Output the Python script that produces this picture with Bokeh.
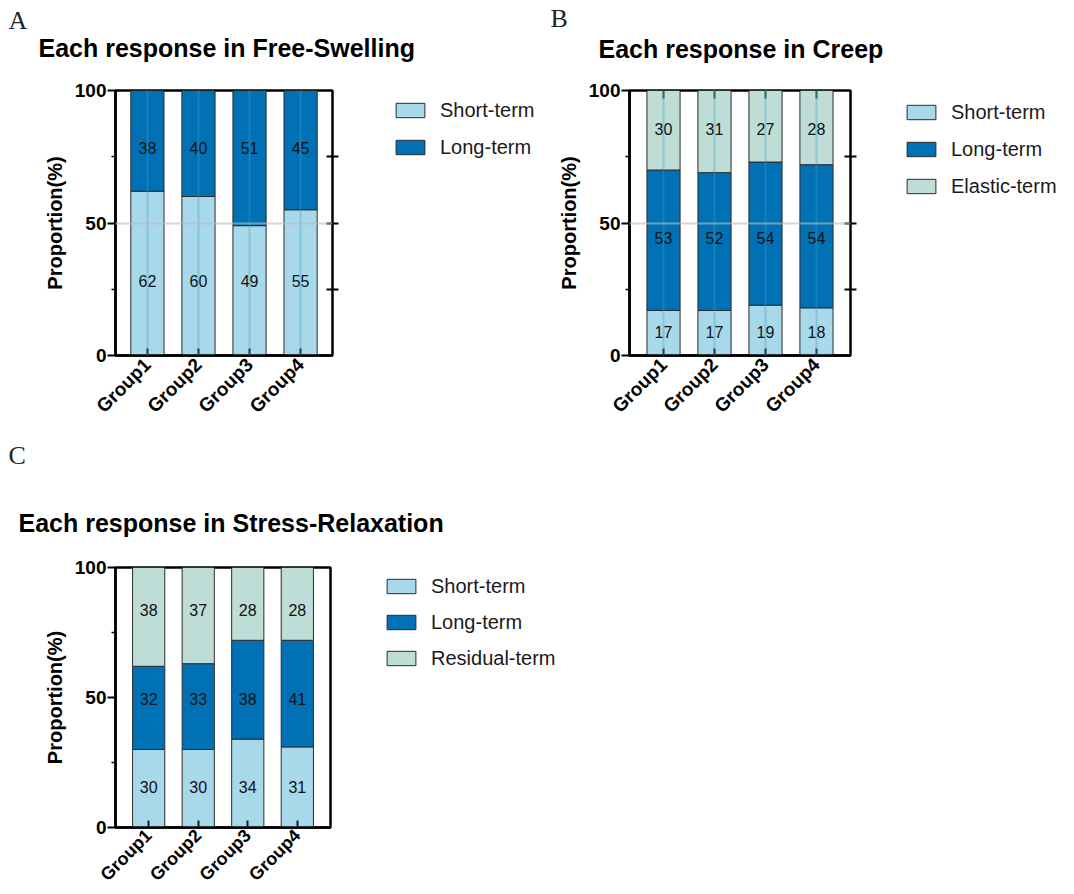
import math
from bokeh.plotting import figure
from bokeh.models import (ColumnDataSource, FactorRange, Range1d, FixedTicker, LinearAxis,
                          CategoricalAxis, Label, Legend, LegendItem, Spacer)
from bokeh.layouts import column, row
from bokeh.embed import file_html
from bokeh.resources import INLINE
from bokeh.core.properties import value

groups = ["Group1", "Group2", "Group3", "Group4"]

# Free-Swelling
fs_short = [62, 60, 49, 55]
fs_long = [38, 40, 51, 45]
# Creep
cr_short = [17, 17, 19, 18]
cr_long = [53, 52, 54, 54]
cr_elastic = [30, 31, 27, 28]
# Stress-Relaxation
sr_short = [30, 30, 34, 31]
sr_long = [32, 33, 38, 41]
sr_residual = [38, 37, 28, 28]

y_ticks = [0, 50, 100]
y_minor_ticks = [25, 75]

SHORT = "#A8D9EB"
LONG = "#0071B4"
THIRD = "#BDDDD6"
SANS = "Liberation Sans"
SERIF = "Liberation Serif"


def make_source(series):
    keys = ["s%d" % i for i in range(len(series))]
    data = {"g": groups}
    for k, s in zip(keys, series):
        data[k] = s
    return keys, ColumnDataSource(data)


def blank(width, height, x_range=None, y_range=None):
    f = figure(width=width, height=height,
               x_range=x_range if x_range is not None else Range1d(0, width),
               y_range=y_range if y_range is not None else Range1d(0, height),
               output_backend="svg", toolbar_location=None,
               x_axis_location=None, y_axis_location=None,
               min_border_left=0, min_border_right=0, min_border_top=0, min_border_bottom=0)
    f.outline_line_color = None
    f.xgrid.grid_line_color = None
    f.ygrid.grid_line_color = None
    f.background_fill_color = "white"
    f.border_fill_color = "white"
    return f


def header(width, height, title, letter, title_xy, letter_xy):
    h = blank(width, height)
    h.add_layout(Label(x=letter_xy[0], y=letter_xy[1], text=letter, text_font=SERIF,
                       text_font_size="26px", text_baseline="middle", text_align="left",
                       text_color="#222222"))
    h.add_layout(Label(x=title_xy[0], y=title_xy[1], text=title, text_font=SANS,
                       text_font_style="bold", text_font_size="25px", text_baseline="middle",
                       text_align="left", text_color="black"))
    return h


def legend_fig(width, height, series, names, colors, spacing):
    keys, src = make_source(series)
    lf = blank(width, height, x_range=FactorRange(*groups), y_range=Range1d(0, 100))
    rends = lf.vbar_stack(keys, x="g", width=0.65, source=src, color=colors,
                          line_color="#2b2b2b", line_width=1)
    for r in rends:
        r.visible = False
    items = [LegendItem(label=n, renderers=[r]) for n, r in zip(names, rends)]
    leg = Legend(items=items, location="top_left", padding=0, margin=0, spacing=spacing,
                 glyph_width=36, glyph_height=18, label_height=24, label_standoff=12,
                 label_text_font=SANS, label_text_font_size="20px", label_text_color="#1a1a1a",
                 border_line_alpha=0, background_fill_alpha=0, inactive_fill_alpha=0)
    lf.add_layout(leg)
    return lf


def chart(b_left, frame_w, b_right, frame_h, b_bottom, series, colors, pad,
          right_ticks, top_ticks, grids, xlab_size, xlab_standoff):
    b_top = 14
    p = figure(width=b_left + frame_w + b_right, height=b_top + frame_h + b_bottom,
               x_range=FactorRange(*groups, range_padding=pad, range_padding_units="absolute"),
               y_range=Range1d(0, 100), output_backend="svg", toolbar_location=None,
               min_border_left=b_left, min_border_right=b_right,
               min_border_top=b_top, min_border_bottom=b_bottom)
    p.background_fill_color = "white"
    p.border_fill_color = "white"
    p.outline_line_color = "black"
    p.outline_line_width = 2.5

    keys, src = make_source(series)
    p.vbar_stack(keys, x="g", width=0.65, source=src, color=colors,
                 line_color="#2b2b2b", line_width=1)

    # value labels (per series, at the mean segment centre)
    bottoms = [0] * len(groups)
    for s in series:
        centres = [b + v / 2 for b, v in zip(bottoms, s)]
        ymean = sum(centres) / len(centres)
        p.text(x=groups, y=[ymean] * len(groups), text=[str(v) for v in s],
               text_align="center", text_baseline="middle", text_font_size="16px",
               text_font=value(SANS), text_color="#111111")
        bottoms = [b + v for b, v in zip(bottoms, s)]

    ya = p.yaxis[0]
    ya.ticker = FixedTicker(ticks=y_ticks, minor_ticks=y_minor_ticks)
    ya.axis_line_width = 2.5
    ya.axis_line_color = "black"
    ya.major_tick_line_width = 2
    ya.major_tick_out = 8
    ya.major_tick_in = 0
    ya.minor_tick_line_width = 1.5
    ya.minor_tick_out = 4
    ya.minor_tick_in = 0
    ya.major_label_standoff = 1
    ya.major_label_text_font = SANS
    ya.major_label_text_font_style = "bold"
    ya.major_label_text_font_size = "19px"
    ya.major_label_text_color = "black"
    ya.axis_label = "Proportion(%)"
    ya.axis_label_text_font = SANS
    ya.axis_label_text_font_style = "bold"
    ya.axis_label_text_font_size = "20px"
    ya.axis_label_text_color = "black"
    ya.axis_label_standoff = 6

    xa = p.xaxis[0]
    xa.axis_line_width = 2.5
    xa.axis_line_color = "black"
    xa.major_tick_in = 7
    xa.major_tick_out = 0
    xa.major_tick_line_width = 2
    xa.major_tick_line_color = "#1a1a1a"
    xa.major_label_orientation = math.pi / 4
    xa.major_label_standoff = xlab_standoff
    xa.major_label_text_font = SANS
    xa.major_label_text_font_style = "bold"
    xa.major_label_text_font_size = xlab_size
    xa.major_label_text_color = "black"

    if right_ticks:
        ra = LinearAxis(ticker=FixedTicker(ticks=[25, 50, 75]), major_tick_in=6, major_tick_out=6,
                        major_tick_line_width=2, axis_line_color=None,
                        major_label_overrides={25: " ", 50: " ", 75: " "},
                        major_label_text_font_size="1px",
                        major_label_standoff=0, minor_tick_line_color=None)
        p.add_layout(ra, "right")
    if top_ticks:
        ta = CategoricalAxis(major_tick_in=8, major_tick_out=0, major_tick_line_width=2,
                             major_tick_line_color="#1f5a4f", axis_line_color=None,
                             major_label_overrides={g: " " for g in groups},
                             major_label_text_font_size="1px", major_label_standoff=0)
        p.add_layout(ta, "above")

    if grids:
        p.ygrid.ticker = FixedTicker(ticks=[50])
        p.ygrid.grid_line_color = "#bdbdbd"
        p.ygrid.grid_line_alpha = 0.6
        p.ygrid.grid_line_width = 2
        p.ygrid.level = "overlay"
        p.xgrid.grid_line_color = "#3A9FCC"
        p.xgrid.grid_line_alpha = 0.35
        p.xgrid.grid_line_width = 2
        p.xgrid.level = "overlay"
    else:
        p.xgrid.grid_line_color = None
        p.ygrid.grid_line_color = None
    return p


# ---- panel A ----
hA = header(549, 76, "Each response in Free-Swelling", "A", (38, 29), (8, 56))
pA = chart(115, 217, 12, 265, 85, [fs_short, fs_long], [SHORT, LONG], 0.125,
           True, False, True, "19px", 6)
lA = legend_fig(157, 342, [fs_short, fs_long], ["Short-term", "Long-term"], [SHORT, LONG], 13)
cellA = column(hA, row(pA, Spacer(width=48, height=364),
                       column(Spacer(width=157, height=22), lA)))

# ---- panel B ----
hB = header(525, 76, "Each response in Creep", "B", (49, 28), (1, 58))
pB = chart(80, 221, 12, 265, 85, [cr_short, cr_long, cr_elastic], [SHORT, LONG, THIRD],
           0.167, True, True, True, "19px", 6)
lB = legend_fig(171, 340, [cr_short, cr_long, cr_elastic],
                ["Short-term", "Long-term", "Elastic-term"], [SHORT, LONG, THIRD], 13)
cellB = column(hB, row(pB, Spacer(width=41, height=364),
                       column(Spacer(width=171, height=24), lB)))

# ---- panel C ----
hC = header(600, 113, "Each response in Stress-Relaxation", "C", (18, 31), (8, 98))
pC = chart(115, 215, 12, 260, 67, [sr_short, sr_long, sr_residual], [SHORT, LONG, THIRD],
           0.17, False, False, False, "18px", 5)
lC = legend_fig(217, 320, [sr_short, sr_long, sr_residual],
                ["Short-term", "Long-term", "Residual-term"], [SHORT, LONG, THIRD], 12)
cellC = column(hC, row(pC, Spacer(width=41, height=341),
                       column(Spacer(width=217, height=21), lC)))

layout = column(row(cellA, cellB), cellC)
open("out.html", "w").write(file_html(layout, INLINE))
